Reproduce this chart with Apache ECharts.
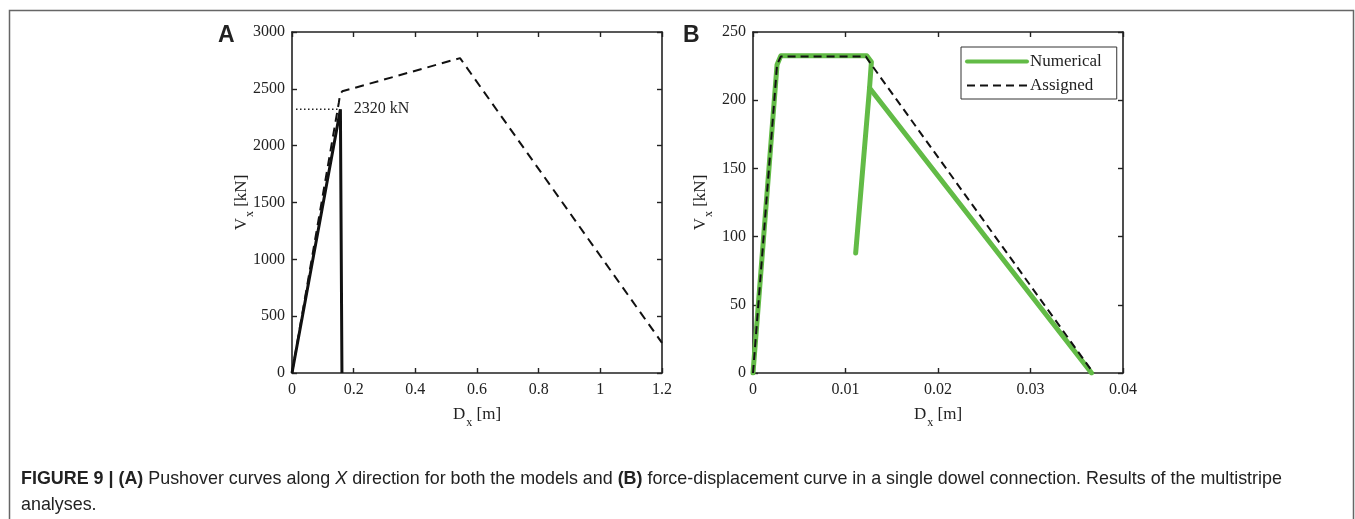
<!DOCTYPE html>
<html><head><meta charset="utf-8">
<script src="https://cdn.jsdelivr.net/npm/echarts@6/dist/echarts.min.js"></script>
<style>html,body{margin:0;padding:0;background:#fff;}#c{width:1355px;height:519px;}</style>
</head><body><div id="c"></div>
<script>
// ---- Panel A data ----
const aXTicks = [0, 0.2, 0.4, 0.6, 0.8, 1, 1.2];
const aYTicks = [0, 500, 1000, 1500, 2000, 2500, 3000];
const aSolid = [[0, 0], [0.157, 2320], [0.162, 2320], [0.162, 0]];
const aDotted = [[0.013, 2320], [0.155, 2320]];
const aDashed = [[0, 0], [0.152, 2380], [0.156, 2455], [0.163, 2478], [0.545, 2770], [1.2, 265]];
const aLabel = '2320 kN';
// ---- Panel B data ----
const bXTicks = [0, 0.01, 0.02, 0.03, 0.04];
const bYTicks = [0, 50, 100, 150, 200, 250];
const bNumericalMain = [[0, 0], [0.0026, 226], [0.0030, 232.5], [0.0123, 232.5], [0.0128, 228], [0.0126, 209], [0.0111, 88]];
const bNumericalBranch = [[0.0126, 209], [0.0366, 0]];
const bAssigned = [[0, 0], [0.0026, 226], [0.0030, 232], [0.0122, 232], [0.0127, 227], [0.0368, 0]];
const seriesNames = ['Numerical', 'Assigned'];

const SERIF = '"Liberation Serif","Times New Roman",serif';
const AX = '#222';
const GREEN = '#62bb46';
const fmt = v => String(v);

function xAxes(grid, ticks) {
  const base = {
    gridIndex: grid, type: 'value', min: ticks[0], max: ticks[ticks.length - 1],
    interval: ticks[1] - ticks[0], splitLine: { show: false },
    axisLine: { show: true, onZero: false, lineStyle: { color: AX, width: 1.6 } },
    axisTick: { show: true, inside: true, length: 5, lineStyle: { color: AX, width: 1.4 } }
  };
  return [
    Object.assign({}, base, {
      position: 'bottom',
      axisLabel: { color: AX, fontFamily: SERIF, fontSize: 16, margin: 9, formatter: fmt },
      name: '{a|D}{s|x}{a| [m]}', nameLocation: 'middle', nameGap: 28,
      nameTextStyle: { rich: { a: { fontFamily: SERIF, fontSize: 17, color: AX }, s: { fontFamily: SERIF, fontSize: 12, color: AX, padding: [16, 0, 0, 1] } } }
    }),
    Object.assign({}, base, { position: 'top', axisLabel: { show: false } })
  ];
}
function yAxes(grid, ticks, unit, gap) {
  const base = {
    gridIndex: grid, type: 'value', min: ticks[0], max: ticks[ticks.length - 1],
    interval: ticks[1] - ticks[0], splitLine: { show: false },
    axisLine: { show: true, onZero: false, lineStyle: { color: AX, width: 1.6 } },
    axisTick: { show: true, inside: true, length: 5, lineStyle: { color: AX, width: 1.4 } }
  };
  return [
    Object.assign({}, base, {
      position: 'left',
      axisLabel: { color: AX, fontFamily: SERIF, fontSize: 16, margin: 7, formatter: fmt },
      name: '{a|V}{s|x}{a| [' + unit + ']}', nameLocation: 'middle', nameGap: gap, nameRotate: 90,
      nameMoveOverlap: false,
      nameTextStyle: { rich: { a: { fontFamily: SERIF, fontSize: 17, color: AX }, s: { fontFamily: SERIF, fontSize: 12, color: AX, padding: [16, 0, 0, 1] } } }
    }),
    Object.assign({}, base, { position: 'right', axisLabel: { show: false } })
  ];
}

const chart = echarts.init(document.getElementById('c'), null, { renderer: 'canvas' });
const xs = xAxes(0, aXTicks).concat(xAxes(1, bXTicks));
const ys = yAxes(0, aYTicks, 'kN', 36).concat(yAxes(1, bYTicks, 'kN', 38));

chart.setOption({
  animation: false,
  backgroundColor: '#fff',
  grid: [
    { left: 292, top: 32, width: 370, height: 341 },
    { left: 753, top: 32, width: 370, height: 341 }
  ],
  xAxis: xs,
  yAxis: ys,
  legend: {
    data: [
      { name: seriesNames[0], lineStyle: { width: 4 } },
      { name: seriesNames[1], lineStyle: { width: 2 } }
    ],
    orient: 'vertical', left: 961, top: 47,
    itemWidth: 60, itemHeight: 14, itemGap: 7,
    padding: [6, 15, 5, 4],
    itemStyle: { opacity: 0 },
    borderColor: '#333', borderWidth: 1, backgroundColor: '#fff',
    textStyle: { fontFamily: SERIF, fontSize: 17, color: AX, padding: [0, 0, 0, -2] }
  },
  graphic: [
    { type: 'rect', silent: true, shape: { x: 9.5, y: 10.5, width: 1344, height: 700 }, style: { fill: 'none', stroke: '#666', lineWidth: 1.5 } },
    { type: 'text', left: 218, top: 24, style: { text: 'A', font: 'bold 23px "Liberation Sans",Arial,sans-serif', fill: '#222' } },
    { type: 'text', left: 683, top: 24, style: { text: 'B', font: 'bold 23px "Liberation Sans",Arial,sans-serif', fill: '#222' } },
    { type: 'text', left: 21, top: 470, style: {
      text: '{b|FIGURE 9 | (A)}{n| Pushover curves along }{i|X}{n| direction for both the models and }{b|(B)}{n| force-displacement curve in a single dowel connection. Results of the multistripe}\n{n|analyses.}',
      rich: {
        b: { font: 'bold 17.9px "Liberation Sans",Arial,sans-serif', fill: '#222', lineHeight: 26 },
        n: { font: '17.9px "Liberation Sans",Arial,sans-serif', fill: '#222', lineHeight: 26 },
        i: { font: 'italic 17.9px "Liberation Sans",Arial,sans-serif', fill: '#222', lineHeight: 26 }
      } } }
  ],
  series: [
    { type: 'line', xAxisIndex: 0, yAxisIndex: 0, data: aDotted, showSymbol: false, symbol: 'none',
      lineStyle: { color: '#222', width: 1.5, type: [1.5, 2.5] },
      endLabel: { show: true, formatter: aLabel, distance: 14, fontFamily: SERIF, fontSize: 16, color: AX } },
    { type: 'line', xAxisIndex: 0, yAxisIndex: 0, data: aSolid, showSymbol: false, symbol: 'none',
      lineStyle: { color: '#111', width: 3 } },
    { type: 'line', xAxisIndex: 0, yAxisIndex: 0, data: aDashed, showSymbol: false, symbol: 'none',
      lineStyle: { color: '#111', width: 2, type: [9, 6] } },
    { name: seriesNames[0], type: 'line', xAxisIndex: 2, yAxisIndex: 2, data: bNumericalMain, showSymbol: false, symbol: 'none',
      lineStyle: { color: GREEN, width: 5, cap: 'round', join: 'round' }, itemStyle: { color: GREEN } },
    { name: seriesNames[0], type: 'line', xAxisIndex: 2, yAxisIndex: 2, data: bNumericalBranch, showSymbol: false, symbol: 'none',
      lineStyle: { color: GREEN, width: 5, cap: 'round' }, itemStyle: { color: GREEN } },
    { name: seriesNames[1], type: 'line', xAxisIndex: 2, yAxisIndex: 2, data: bAssigned, showSymbol: false, symbol: 'none',
      lineStyle: { color: '#111', width: 2, type: [8, 5] }, itemStyle: { color: '#111' } }
  ]
});
</script></body></html>
